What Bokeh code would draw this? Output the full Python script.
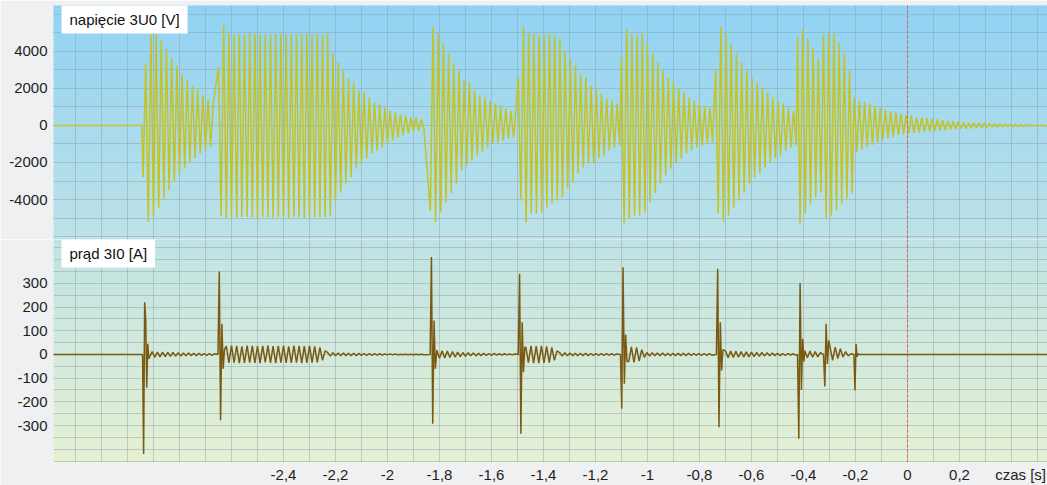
import numpy as np
from bokeh.plotting import figure
from bokeh.models import Range1d, FixedTicker, Label, Span
from bokeh.layouts import column
from bokeh.embed import file_html
from bokeh.resources import INLINE

# ---------------- data ----------------
HALF_PERIOD = 0.01  # 50 Hz: one extremum every 10 ms

# voltage 3U0 [V]: signed half-cycle extrema of each burst
volt_lead_t = [-3.30, -2.945]
volt_lead_v = [0, 0]
volt_burst_start = [-2.940, -2.650, -1.835, -1.497, -1.100, -0.738, -0.423, -0.205]
volt_b1 = [-2800, 3350, -5200, 4900, -4900, 4950, -4450, 4600, -3950, 4150, -3500, 3650,
           -3050, 3200, -2650, 2800, -2300, 2450, -2000, 2150, -1750, 1900, -1500, 1650,
           -1300, 1400, -1150, 1200]
volt_b2 = [3150, -4900, 5400, -5000,
           4950, -4950, 4900, -5000, 4950, -4950, 4900, -4950, 5000, -4950, 4950, -5000,
           4900, -4950, 4950, -4950, 4900, -5000, 4950, -4950, 4950, -4950, 4900, -5000,
           4950, -4950, 4900, -4950, 4950, -5000, 4950, -4950, 4900, -4950, 4950, -4950,
           4900, -4950, 4950, -4900,
           3900, -4050, 3400, -3620, 2970, -3150, 2540, -2800, 2320, -2320, 1890, -2050,
           1780, -1780, 1510, -1510, 1240, -1350, 1190, -1190, 970, -970, 810, -810,
           700, -650, 600, -540, 540, -430, 430, -320, 430, -270, 320, -160]
volt_b3 = [-4600, 5350, -5240, 4970, -4700, 4430, -4150, 3890, -3650, 3350, -3150, 2970,
           -2430, 2430, -2160, 2320, -1890, 1890, -1620, 1620, -1460, 1510, -1190, 1350,
           -970, 1190, -920, 1080, -810, 920, -700, 810, -650]
volt_b4 = [2600, -4050, 5350, -5240, 4970, -4760, 4970, -4760, 4860, -4700, 4860, -4430,
           4970, -4220, 4860, -4050, 4700, -3890, 4050, -3400, 3620, -3080, 3240, -2600,
           2810, -2270, 2600, -2050, 2160, -2050, 2000, -1780, 1730, -1620, 1460, -1350,
           1350, -1190, 1190, -1080]
volt_b5 = [3700, -5300, 5190, -5030, 4970, -4860, 4860, -4860, 4970, -4700, 4430, -4150,
           3890, -3650, 3400, -3150, 2970, -2700, 2600, -2320, 2320, -2050, 2000, -1780,
           1780, -1510, 1510, -1350, 1350, -1190, 1190, -1080, 1030, -970, 970, -920]
volt_b6 = [2970, -4760, 5350, -5190, 4970, -4860, 4430, -4430, 3890, -4050, 3400, -3620,
           2970, -3150, 2600, -2810, 2320, -2600, 2050, -2270, 1780, -2000, 1510, -1780,
           1350, -1620, 1190, -1350, 970, -1190, 810, -1080]
volt_b7 = [4760, -5300, 5190, -4760, 4700, -4220, 4160, -3890, 3620, -3620, 4860, -5030,
           4970, -4860, 4970, -4590, 4490, -4220, 3890, -3950, 2970, -3680]
volt_b8 = [1510, -1450, 1350, -1300, 1250, -1190, 1190, -1050, 1050, -900, 950, -780,
           850, -680, 780, -600, 700, -540, 650, -480, 580, -430, 520, -400, 430, -380,
           430, -340, 380, -320, 360, -290, 340, -270, 280, -240, 250, -220, 220, -200,
           200, -180, 180, -160, 160, -140, 140, -130, 130, -115, 120, -100, 100, -90,
           90, -80, 75, -70, 65, -60, 55, -50, 45, -45, 40, -40, 30, -30, 25, -25,
           20, -20, 20, -20]
volt_bursts = [volt_b1, volt_b2, volt_b3, volt_b4, volt_b5, volt_b6, volt_b7, volt_b8]
volt_trail_t = [0.55]
volt_trail_v = [0]

# current 3I0 [A]: transients (fine step) and oscillations (half-cycle step)
cur_lead_t = [-3.30, -2.942]
cur_lead_v = [0, 0]
cur_s1 = [0, -420, 220, 150, -140, 45, -18]
cur_w1 = [12, -12, 10, -10, 10, -9, 9, -8, 8, -7, 7, -7, 6, -6, 6, -5, 5, -5, 5, -4,
          4, -4, 4, -4, 3]
cur_s2 = [0, 350, -278, 129, -60, 20]
cur_o2 = [35, -36, 37, -35, 36, -37, 34, -36, 37, -35, 36, -36, 35, -37, 36, -34, 37,
          -36, 35, -37, 36, -35, 37, -36, 34, -36, 37, -35, 36, -37, 35, -36, 36, -35,
          34, -33, 30, -25, 15]
cur_w2 = [8, -7, 7, -6, 6, -6, 6, -5, 5, -5, 5, -5, 5, -4, 4, -4, 4, -4, 3, -3, 3, -3,
          2, -2, 2, -2, 2, -2, 1, -1, 1, -1, 1, -1, 1, -1, 1, -1]
cur_s3 = [0, 411, -292, 143, -60]
cur_w3 = [18, -16, 16, -15, 14, -13, 12, -11, 10, -9, 8, -8, 7, -6, 6, -6, 5, -5, 5,
          -4, 4, -4, 4, -3, 3, -3, 3, -2, 2, -2, 2]
cur_s4 = [0, 340, -335, 136, -75, 30]
cur_o4 = [30, -35, 36, -37, 35, -37, 36, -36, 34, -35, 30, -25, 15]
cur_w4 = [8, -7, 7, -6, 6, -6, 5, -5, 5, -5, 5, -5, 4, -4, 4, -4, 4, -4, 3, -3, 3, -3, 2]
cur_s5 = [0, -229, 368, -124, 84, -30]
cur_o5 = [-30, 32, -34, 30, -28, 20, -12]
cur_w5 = [8, -7, 7, -6, 6, -6, 6, -5, 5, -5, 5, -5, 5, -5, 5, -5, 5, -4, 4, -4, 4, -4,
          4, -4, 3, -3]
cur_s6 = [0, 362, -307, 136, -68, 20]
cur_w6 = [15, -14, 14, -13, 13, -12, 12, -11, 11, -10, 10, -9, 9, -8, 8, -7, 7, -6, 6,
          -5, 5, -5, 4, -4, 4, -3, 3, -3]
cur_s7 = [0, -356, 301, -150, 66, -30]
cur_w7 = [15, -14, 14, -12, 12, -10, 8]
cur_s8 = [0, -135, 129, -40, 59]
cur_o8 = [33, -25, 31, -17, 24, -11, 12, -6, 3]
cur_s9 = [0, -152, 45, -10, 3, 0]
cur_trail_t = [-0.18, 0.55]
cur_trail_v = [0, 0]
# (start time [s], step [s], values)
cur_segments = [
    (-2.942, 0.004, cur_s1), (-2.905, HALF_PERIOD, cur_w1),
    (-2.652, 0.005, cur_s2), (-2.620, HALF_PERIOD, cur_o2), (-2.230, HALF_PERIOD, cur_w2),
    (-1.836, 0.005, cur_s3), (-1.810, HALF_PERIOD, cur_w3),
    (-1.497, 0.005, cur_s4), (-1.468, HALF_PERIOD, cur_o4), (-1.338, HALF_PERIOD, cur_w4),
    (-1.104, 0.005, cur_s5), (-1.072, HALF_PERIOD, cur_o5), (-1.002, HALF_PERIOD, cur_w5),
    (-0.735, 0.005, cur_s6), (-0.700, HALF_PERIOD, cur_w6),
    (-0.423, 0.005, cur_s7), (-0.395, HALF_PERIOD, cur_w7),
    (-0.323, 0.005, cur_s8), (-0.298, HALF_PERIOD, cur_o8),
    (-0.206, 0.004, cur_s9),
]

# axes
x_tick_values = [-2.4, -2.2, -2.0, -1.8, -1.6, -1.4, -1.2, -1.0, -0.8, -0.6, -0.4, -0.2, 0.0, 0.2]
x_tick_labels = ["-2,4", "-2,2", "-2", "-1,8", "-1,6", "-1,4", "-1,2", "-1", "-0,8", "-0,6",
                 "-0,4", "-0,2", "0", "0,2"]
x_axis_title = "czas [s]"
volt_tick_values = [-4000, -2000, 0, 2000, 4000]
volt_tick_labels = ["-4000", "-2000", "0", "2000", "4000"]
cur_tick_values = [-300, -200, -100, 0, 100, 200, 300]
cur_tick_labels = ["-300", "-200", "-100", "0", "100", "200", "300"]
volt_title = "napięcie 3U0 [V]"
cur_title = "prąd 3I0 [A]"


# ---------------- build series ----------------
def chain(lead_t, lead_v, segments, trail_t=(), trail_v=()):
    t, v = list(lead_t), list(lead_v)
    for t0, step, vals in segments:
        t += [t0 + i * step for i in range(len(vals))]
        v += list(vals)
    t += list(trail_t)
    v += list(trail_v)
    return t, v


volt_t, volt_v = chain(volt_lead_t, volt_lead_v,
                       [(s, HALF_PERIOD, b) for s, b in zip(volt_burst_start, volt_bursts)],
                       volt_trail_t, volt_trail_v)
cur_t, cur_v = chain(cur_lead_t, cur_lead_v, cur_segments, cur_trail_t, cur_trail_v)

# ---------------- styling ----------------
FONT = "Liberation Sans"
BORDER = "#eff0f2"
GRID = "#8d9ba2"
TXT = "#1e1e1e"
X0, X1 = -3.2846, 0.5385
AXIS_TITLE_AT = 0.435  # the axis title sits in the tick row, flush right
xr = Range1d(X0, X1)
x_grid = [round(k * 0.1, 1) for k in range(-32, 6)]


def hex2rgb(h):
    h = h.lstrip("#")
    return [int(h[i:i + 2], 16) for i in (0, 2, 4)]


def gradient(p, y0, y1, c_top, c_bot, n=70):
    edges = np.linspace(y1, y0, n + 1)
    a, b = hex2rgb(c_top), hex2rgb(c_bot)
    fr = (np.arange(n) + 0.5) / n
    cols = ["#%02x%02x%02x" % tuple(int(round(a[k] + (b[k] - a[k]) * f)) for k in range(3)) for f in fr]
    r = p.quad(left=X0 - 1, right=X1 + 1, top=edges[:-1], bottom=edges[1:],
               fill_color=cols, line_color=cols, line_width=1)
    r.level = "image"


def style(p, y_ticks, y_labels, y_grid):
    p.min_border = 0
    p.min_border_left = 53
    p.border_fill_color = BORDER
    p.outline_line_color = None
    p.yaxis.ticker = FixedTicker(ticks=y_ticks)
    p.yaxis.major_label_overrides = dict(zip(y_ticks, y_labels))
    p.yaxis.axis_line_color = None
    p.yaxis.major_tick_line_color = None
    p.yaxis.minor_tick_line_color = None
    p.yaxis.major_tick_out = 0
    p.yaxis.major_tick_in = 0
    p.yaxis.minor_tick_out = 0
    p.yaxis.major_label_standoff = 6
    p.yaxis.major_label_text_font = FONT
    p.yaxis.major_label_text_font_size = "15px"
    p.yaxis.major_label_text_color = TXT
    p.xgrid.ticker = FixedTicker(ticks=x_grid)
    p.ygrid.ticker = FixedTicker(ticks=y_grid)
    for g in (p.xgrid, p.ygrid):
        g.grid_line_color = GRID
        g.grid_line_alpha = 0.45
        g.grid_line_width = 1
    p.add_layout(Span(location=0, dimension="height", line_color="#e0605c",
                      line_dash="3 2", line_width=1))


def title_box(p, text, y):
    p.add_layout(Label(x=X0, y=y, x_offset=8, y_offset=1, anchor="top_left", text=text,
                       text_font=FONT, text_font_size="15px", text_color="#111111",
                       background_fill_color="white", padding=(8, 6)))


# top: voltage
VY0, VY1 = -6162, 6486
p1 = figure(frame_width=994, frame_height=234, x_range=xr, y_range=Range1d(VY0, VY1),
            output_backend="svg", toolbar_location=None)
style(p1, volt_tick_values, volt_tick_labels, [k * 1000 for k in range(-6, 7)])
p1.min_border_top = 5
p1.xaxis.visible = False
gradient(p1, VY0, VY1, "#90d2f3", "#bde2e7")
p1.line(volt_t, volt_v, line_color="#c4c322", line_width=1.5)
title_box(p1, volt_title, VY1)

# bottom: current
CY0, CY1 = -456, 485
p2 = figure(frame_width=994, frame_height=223, x_range=xr, y_range=Range1d(CY0, CY1),
            output_backend="svg", toolbar_location=None)
style(p2, cur_tick_values, cur_tick_labels, [k * 50 for k in range(-9, 10)])
p2.min_border_bottom = 23
x_ticks_all = x_tick_values + [AXIS_TITLE_AT]
x_labels_all = x_tick_labels + [x_axis_title]
p2.xaxis.ticker = FixedTicker(ticks=x_ticks_all)
p2.xaxis.major_label_overrides = dict(zip(x_ticks_all, x_labels_all))
p2.xaxis.axis_line_color = None
p2.xaxis.major_tick_line_color = None
p2.xaxis.minor_tick_line_color = None
p2.xaxis.major_tick_out = 0
p2.xaxis.major_tick_in = 0
p2.xaxis.minor_tick_out = 0
p2.xaxis.major_label_standoff = 3
p2.xaxis.major_label_text_font = FONT
p2.xaxis.major_label_text_font_size = "15px"
p2.xaxis.major_label_text_color = TXT
gradient(p2, CY0, CY1, "#bfe3e4", "#e5f0d3")
p2.line(cur_t, cur_v, line_color="#7a5912", line_width=1.5)
title_box(p2, cur_title, CY1)

layout = column(p1, p2, spacing=0)
open("out.html", "w").write(file_html(layout, INLINE))
